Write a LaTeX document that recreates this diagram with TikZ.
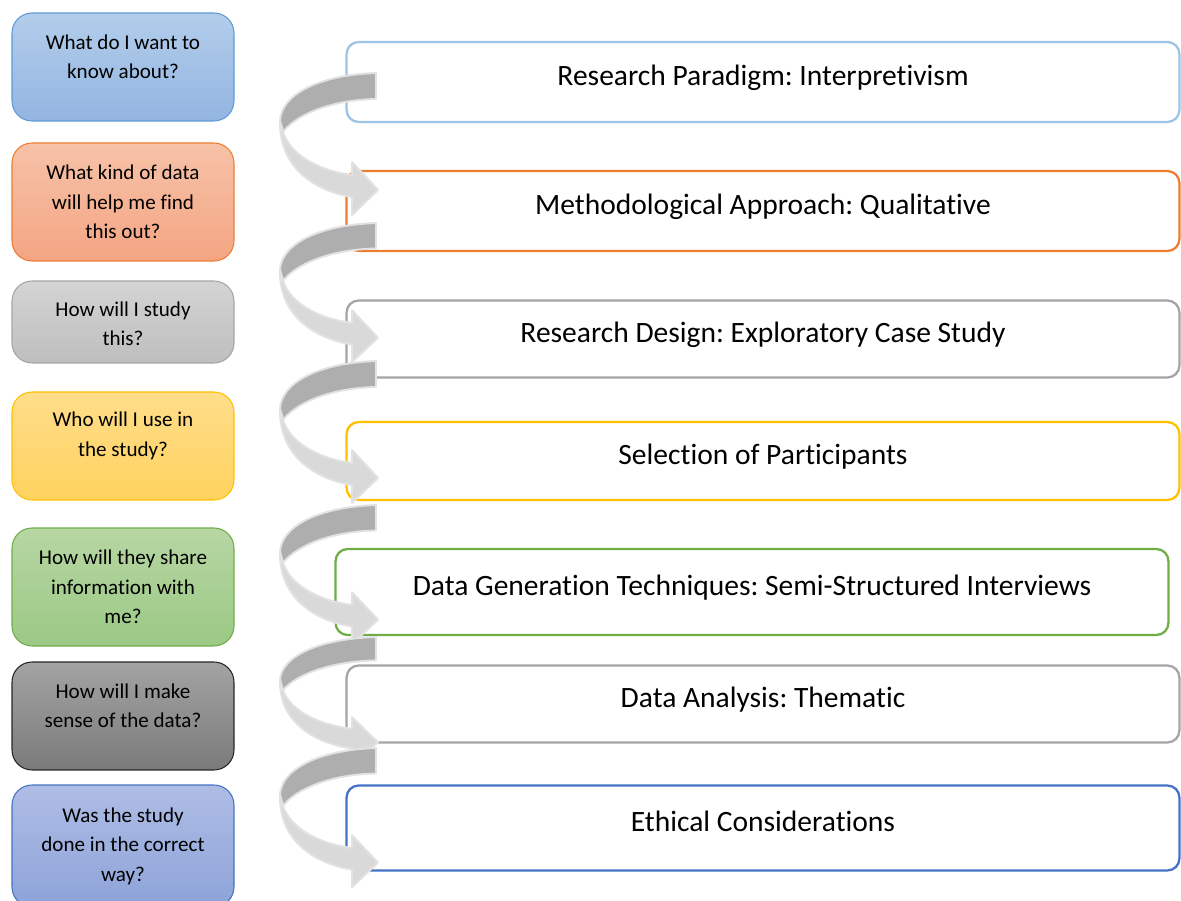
\documentclass[tikz,border=0pt]{standalone}
\usepackage{fontspec}
\setmainfont{Carlito}[Ligatures=CommonOff]
\frenchspacing

% question boxes: top shade, bottom shade, outline
\definecolor{q1top}{HTML}{B3CDEB}\definecolor{q1bot}{HTML}{93B5E1}\definecolor{q1line}{HTML}{5B9BD5}
\definecolor{q2top}{HTML}{F7C2A8}\definecolor{q2bot}{HTML}{F4A583}\definecolor{q2line}{HTML}{ED7D31}
\definecolor{q3top}{HTML}{D4D4D4}\definecolor{q3bot}{HTML}{BEBEBE}\definecolor{q3line}{HTML}{A5A5A5}
\definecolor{q4top}{HTML}{FFDD8A}\definecolor{q4bot}{HTML}{FFD35F}\definecolor{q4line}{HTML}{FFC000}
\definecolor{q5top}{HTML}{B7D6A3}\definecolor{q5bot}{HTML}{9BC985}\definecolor{q5line}{HTML}{70AD47}
\definecolor{q6top}{HTML}{A3A3A3}\definecolor{q6bot}{HTML}{7B7B7B}\definecolor{q6line}{HTML}{262626}
\definecolor{q7top}{HTML}{AFBDE5}\definecolor{q7bot}{HTML}{8DA3D9}\definecolor{q7line}{HTML}{4472C4}
% answer box outlines
\definecolor{a1line}{HTML}{9DC3E6}\definecolor{a2line}{HTML}{ED7D31}
\definecolor{a3line}{HTML}{A5A5A5}\definecolor{a4line}{HTML}{FFC000}
\definecolor{a5line}{HTML}{70AD47}\definecolor{a6line}{HTML}{A5A5A5}
\definecolor{a7line}{HTML}{4472C4}
% curved ribbon arrows
\definecolor{ribbondark}{HTML}{AEAEAE}
\definecolor{ribbonlight}{HTML}{D9D9D9}
\definecolor{ribbonedge}{HTML}{E2E2E2}

\begin{document}
\begin{tikzpicture}[x=0.02cm, y=-0.02cm,
    question/.style={rectangle, rounded corners=0.4cm, minimum width=4.44cm, line width=0.6pt},
    qtext/.style={align=center, font=\fontsize{12}{16.8}\selectfont},
    answer/.style={rectangle, rounded corners=0.24cm, fill=white, line width=1.3pt,
        minimum width=16.66cm, text height=0.42cm, text depth=0.27cm,
        font=\fontsize{16.8}{19}\selectfont},
    back/.style={fill=ribbondark, draw=ribbonedge, line width=1.1pt, line join=round},
    front/.style={fill=ribbonlight, draw=ribbonedge, line width=1.1pt, line join=round}]
\clip (0,0) rectangle (1181,901);

% questions on the left
\foreach \i/\yc/\h/\yt/\txt in {
    1/67/2.16/57/{What do I want to\\know about?},
    2/202/2.36/202/{What kind of data\\will help me find\\this out?},
    3/322/1.64/324/{How will I study\\this?},
    4/446/2.16/436/{Who will I use in\\the study?},
    5/587/2.36/587/{How will they share\\information with\\me?},
    6/716/2.16/706/{How will I make\\sense of the data?},
    7/846/2.44/846/{Was the study\\done in the correct\\way?}}
{
    \node[question, minimum height=\h cm, top color=q\i top, bottom color=q\i bot, draw=q\i line] (q\i) at (123,\yc) {};
    \node[qtext] (t\i) at (123,\yt) {\txt};
}

% answers on the right
\foreach \i/\xc/\yc/\h/\txt in {
    1/763/82/1.6/{Research Paradigm: Interpretivism},
    2/763/211/1.6/{Methodological Approach: Qualitative},
    3/763/339/1.54/{Research Design: Exploratory Case Study},
    4/763/461/1.56/{Selection of Participants},
    5/752/592/1.72/{Data Generation Techniques: Semi-Structured Interviews},
    6/763/704/1.54/{Data Analysis: Thematic},
    7/763/828/1.7/{Ethical Considerations}}
{
    \node[answer, draw=a\i line, minimum height=\h cm] (a\i) at (\xc,\yc) {\txt};
}

% ribbons curling from one answer down to the next
\foreach \ys/\s in {73/1, 223/0.98, 361/1, 505/0.98, 637/0.9, 748/0.98}
{
    \begin{scope}[shift={(0,\ys)}, yscale=\s]
        \draw[back] (376,0) .. controls (318,2) and (281,22) .. (280,48)
            -- (283,59) .. controls (296,42) and (330,27) .. (376,26) -- cycle;
        \draw[front] (280,48) .. controls (279,95) and (315,118) .. (352,124)
            -- (352,142) -- (378,117) -- (352,89) -- (352,102)
            .. controls (315,97) and (290,80) .. (283,59) -- cycle;
    \end{scope}
}
\end{tikzpicture}
\end{document}
